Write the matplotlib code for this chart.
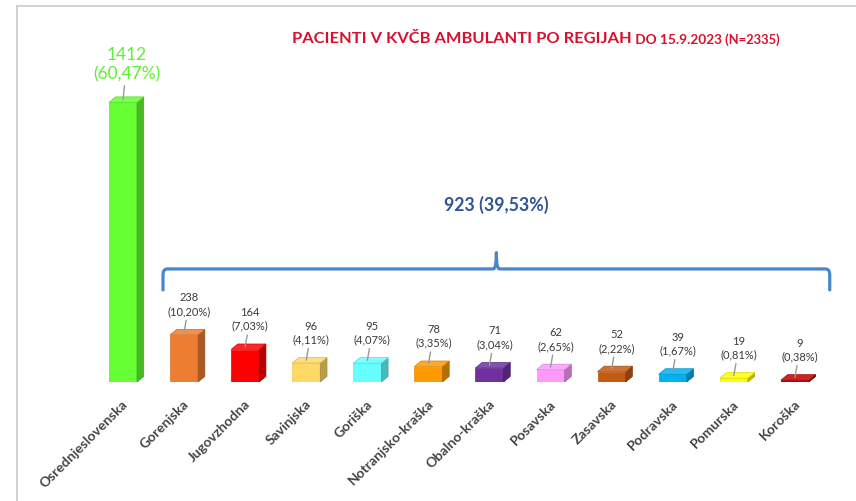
import matplotlib
matplotlib.use("Agg")
import matplotlib.pyplot as plt
from matplotlib.patches import Polygon, PathPatch
from matplotlib.path import Path
from matplotlib.lines import Line2D
import matplotlib.colors as mcolors

plt.rcParams['font.family'] = ['Lato', 'DejaVu Sans']

# ---------------- data ----------------
regions = ["Osrednjeslovenska", "Gorenjska", "Jugovzhodna", "Savinjska", "Goriška",
           "Notranjsko-kraška", "Obalno-kraška", "Posavska", "Zasavska", "Podravska",
           "Pomurska", "Koroška"]
patients = [1412, 238, 164, 96, 95, 78, 71, 62, 52, 39, 19, 9]
percents = ["60,47", "10,20", "7,03", "4,11", "4,07", "3,35", "3,04", "2,65", "2,22",
            "1,67", "0,81", "0,38"]
bar_colors = ["#66FF33", "#ED7D31", "#FF0000", "#FFD966", "#66FFFF", "#FF9900",
              "#7030A0", "#FF99FF", "#C55A11", "#00B0F0", "#FFFF00", "#C00000"]
others_total = 923
others_percent = "39,53"
title_main = "PACIENTI V KVČB AMBULANTI PO REGIJAH"
title_date = " DO 15.9.2023"
title_n = " (N=2335)"

# ---------------- figure ----------------
W, H = 856, 502
fig = plt.figure(figsize=(W / 100, H / 100), dpi=100)
fig.patch.set_facecolor("white")
ax = fig.add_axes([17 / W, 119 / H, 839 / W, 376 / H])
ax.set_xlim(-1.735, 12.0)
ax.set_ylim(0, 1899)
ax.axis("off")

# frame
fig.add_artist(Line2D([17 / W, 17 / W], [0, 495 / H], color="#CFCFCF", lw=1.3))
fig.add_artist(Line2D([17 / W, 1], [495 / H, 495 / H], color="#CFCFCF", lw=1.3))

def shade(c, f):
    r, g, b = mcolors.to_rgb(c)
    return (r * f, g * f, b * f)

def lighten(c, f):
    r, g, b = mcolors.to_rgb(c)
    return (r + (1 - r) * f, g + (1 - g) * f, b + (1 - b) * f)

BW = 0.46      # front face width (category units)
DX = 0.11      # depth in x
DY = 28        # depth in y (value units)

for i, (v, c) in enumerate(zip(patients, bar_colors)):
    x0 = i - 0.23
    x1 = x0 + BW
    front = Polygon([(x0, 0), (x1, 0), (x1, v), (x0, v)], closed=True,
                    facecolor=c, edgecolor=shade(c, 0.92), lw=0.5)
    side = Polygon([(x1, 0), (x1 + DX, DY), (x1 + DX, v + DY), (x1, v)], closed=True,
                   facecolor=shade(c, 0.72), edgecolor=shade(c, 0.65), lw=0.5)
    top = Polygon([(x0, v), (x1, v), (x1 + DX, v + DY), (x0 + DX, v + DY)], closed=True,
                  facecolor=lighten(c, 0.15), edgecolor=shade(c, 0.85), lw=0.5)
    for p in (front, side, top):
        ax.add_patch(p)

    txt = f"{v}\n({percents[i]}%)"
    if i == 0:
        ax.annotate(txt, xy=(i + 0.0, v + DY * 0.5), xytext=(4, 18),
                    textcoords="offset pixels", ha="center", va="bottom",
                    fontsize=12.5, color="#5CF22F", linespacing=1.25,
                    arrowprops=dict(arrowstyle="-", color="#9A9A9A", lw=1,
                                    shrinkA=1, shrinkB=0))
    else:
        ax.annotate(txt, xy=(i + 0.0, v + DY * 0.5), xytext=(5, 16),
                    textcoords="offset pixels", ha="center", va="bottom",
                    fontsize=8, color="#3A3A3A", linespacing=1.3,
                    arrowprops=dict(arrowstyle="-", color="#9A9A9A", lw=1,
                                    shrinkA=1, shrinkB=0))

    ax.text(i - 0.02, -75, regions[i], rotation=45, rotation_mode="anchor",
            ha="right", va="top", fontsize=10, fontweight="bold", color="#454545")

# brace over the other regions
bl, br = 0.655, 11.57
bm = (bl + br) / 2
yb, ye, yt = 571, 465, 652
r = 0.07
verts = [(bl, ye), (bl, yb - 30), (bl, yb), (bl + r, yb),
         (bm - 0.05, yb), (bm, yb), (bm, yt)]
codes = [Path.MOVETO, Path.LINETO, Path.CURVE3, Path.CURVE3,
         Path.LINETO, Path.CURVE3, Path.CURVE3]
verts2 = [(br, ye), (br, yb - 30), (br, yb), (br - r, yb),
          (bm + 0.05, yb), (bm, yb), (bm, yt)]
for vv in (verts, verts2):
    ax.add_patch(PathPatch(Path(vv, codes), facecolor="none", edgecolor="#4A86CB",
                           lw=2.3, capstyle="round", joinstyle="round"))
ax.text(bm, 900, f"{others_total} ({others_percent}%)", ha="center", va="center",
        fontsize=12.8, fontweight="bold", color="#2F5597")

# title
t1 = fig.text(292 / W, 1 - 43 / H, title_main, ha="left", va="baseline",
              fontsize=11.8, fontweight="bold", color="#D7102E")
t2 = ax.annotate(title_date, xy=(1, 0), xycoords=t1, ha="left", va="bottom",
                 fontsize=9.8, fontweight="bold", color="#D7102E")
t3 = ax.annotate(title_n, xy=(1, 0), xycoords=t2, ha="left", va="bottom",
                 fontsize=9.3, fontweight="bold", color="#D7102E")

fig.savefig("out.png", dpi=100, facecolor="white")
